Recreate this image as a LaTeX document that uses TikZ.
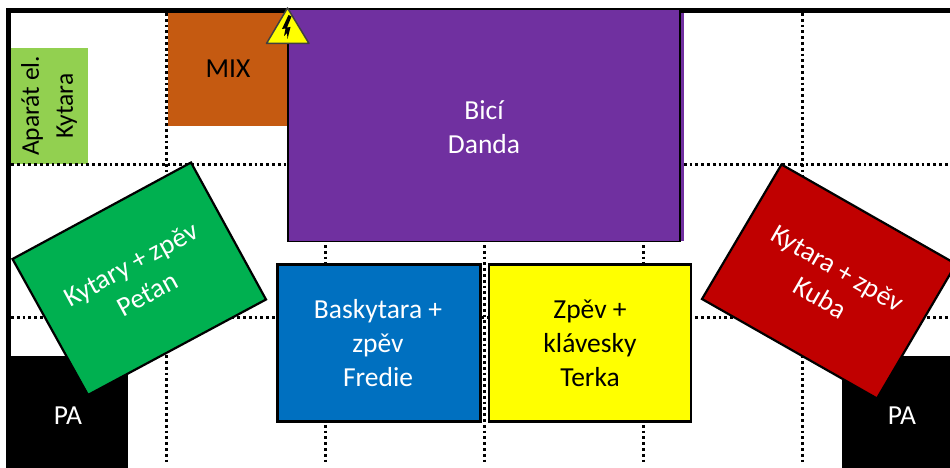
\documentclass[tikz,border=0pt]{standalone}
\usepackage{fontspec}
\setmainfont{Carlito}
\usetikzlibrary{calc}
\definecolor{cgreen}{HTML}{00B050}
\definecolor{cred}{HTML}{C00000}
\definecolor{cpurple}{HTML}{7030A0}
\definecolor{cblue}{HTML}{0070C0}
\definecolor{corange}{HTML}{C55A11}
\definecolor{clime}{HTML}{92D050}
\definecolor{cyel}{HTML}{FFFF00}
\tikzset{
  gridline/.style={line width=2.8pt,dash pattern=on 2.8pt off 3pt,black},
  lab/.style={font=\fontsize{27.5}{34}\selectfont,align=center,inner sep=0pt},
  wlab/.style={lab,text=white},
  blab/.style={lab,text=black},
  boxed/.style={draw=black,line width=2.2pt,line join=miter},
  plain/.style={inner sep=0pt,outer sep=0pt,anchor=north west},
}
\begin{document}
\begin{tikzpicture}[x=1pt,y=-1pt]
\useasboundingbox (0,0) rectangle (950,468);
\fill[white] (0,0) rectangle (950,468);
% amp
\node[plain,fill=clime,minimum width=77pt,minimum height=115.5pt] (amp) at (11,48) {};
% grid
\foreach \gx in {166.5,325.5,484.5,643.5,802.5}{\draw[gridline] (\gx,13) -- (\gx,465);}
\foreach \gy in {164.5,317.5}{\draw[gridline] (11,\gy) -- (950,\gy);}
% outer frame
\draw[black,line width=5pt] (8.5,360) -- (8.5,10.5) -- (950,10.5);
% speakers
\node[plain,fill=black,minimum width=122pt,minimum height=112pt] (paL) at (6,356) {};
\node[plain,fill=black,minimum width=108pt,minimum height=112pt] (paR) at (842,356) {};
\node[wlab] at (68,416) {PA};
\node[wlab] at (902,416) {PA};
\node[blab,rotate=90,font=\fontsize{25.5}{34}\selectfont] at (49,106) {Aparát el.\\Kytara};
% mix
\node[plain,fill=corange,minimum width=120pt,minimum height=113pt] (mix) at (167.5,13) {};
\node[blab] at (228,69) {MIX};
% drums
\fill[cpurple] (287,9) rectangle (681,242);
\fill[cpurple] (681,13) rectangle (684,240.5);
\draw[black,line width=1.8pt] (288,9.5) -- (680,9.5) -- (680,241.5) -- (288,241.5) -- cycle;
\node[wlab] at (484,127) {Bicí\\Danda};
% blue and yellow
\node[boxed,fill=cblue,plain,minimum width=203pt,minimum height=157pt] (bass) at (277.5,264.5) {};
\node[wlab] at (378,343) {Baskytara +\\zpěv\\Fredie};
\node[boxed,fill=cyel,plain,minimum width=202pt,minimum height=157pt] (keys) at (489,264.5) {};
\node[blab] at (590,343) {Zpěv +\\klávesky\\Terka};
% rotated
\draw[boxed,fill=cgreen] (191,162.5) -- (266,299.5) -- (88,395) -- (12.5,259) -- cycle;
\node[wlab,rotate=28.5] at (139,279) {Kytary + zpěv\\Peťan};
\draw[boxed,fill=cred] (781.5,164.5) -- (956,264) -- (877,398.5) -- (702,299) -- cycle;
\node[wlab,rotate=-30] at (829,283) {Kytara + zpěv\\Kuba};
% warning sign
\fill[cyel,draw=black!75,line width=1.5pt,line join=round] (287.5,8) -- (309,43.5) -- (266.5,43.5) -- cycle;
\fill[black] (288.5,15) -- (282,29) -- (285.5,28.5) -- (284,36) -- (287,33) -- (287.5,39) -- (290.5,27) -- (287,27.5) -- (291.5,16.5) -- cycle;
\end{tikzpicture}
\end{document}
